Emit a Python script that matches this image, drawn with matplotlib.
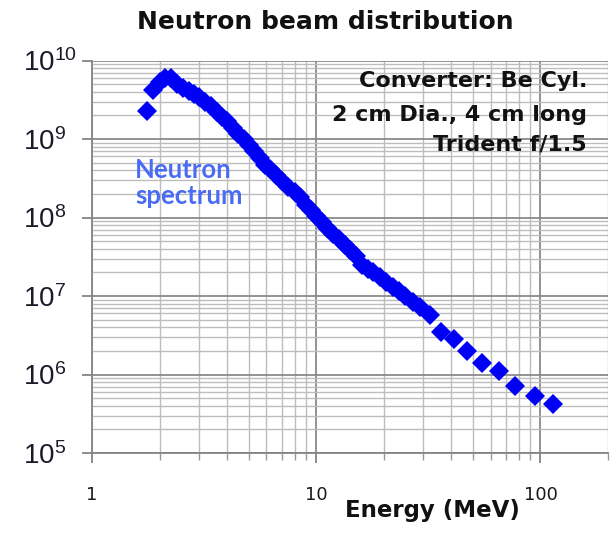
import matplotlib
matplotlib.use("Agg")
import matplotlib.pyplot as plt
from matplotlib.ticker import LogLocator, FixedLocator, NullFormatter

# Neutron energy (MeV) and yield per bin
energy_mev = [1.75, 1.88, 2.0, 2.12, 2.25, 2.4, 2.55, 2.7, 2.85, 3.0,
              3.2, 3.4, 3.6, 3.8, 4.0, 4.25, 4.5, 4.75, 5.0, 5.3,
              5.6, 5.9, 6.2, 6.6, 7.0, 7.5, 8.0, 8.5, 9.0, 9.5,
              10.0, 10.6, 11.2, 11.9, 12.6, 13.4, 14.2, 15.0, 16.0, 17.0,
              18.0, 19.2, 20.5, 22.0, 23.5, 25.0, 27.0, 29.0, 32.0, 36.0,
              41.0, 47.0, 55.0, 65.0, 77.0, 94.5, 113.5]
neutrons = [2.3e9, 4.2e9, 5.4e9, 5.9e9, 6.0e9, 5.0e9, 4.5e9, 4.1e9, 3.7e9, 3.4e9,
            3.0e9, 2.6e9, 2.2e9, 1.9e9, 1.7e9, 1.4e9, 1.15e9, 1.0e9, 8.5e8, 7.0e8,
            5.8e8, 4.7e8, 4.1e8, 3.5e8, 2.9e8, 2.45e8, 2.1e8, 1.8e8, 1.45e8, 1.25e8,
            1.05e8, 8.8e7, 7.3e7, 6.2e7, 5.3e7, 4.5e7, 3.9e7, 3.2e7, 2.5e7, 2.2e7,
            2.0e7, 1.75e7, 1.5e7, 1.3e7, 1.15e7, 1.0e7, 8.5e6, 7.2e6, 5.7e6, 3.5e6,
            2.85e6, 2.0e6, 1.4e6, 1.1e6, 7.2e5, 5.4e5, 4.2e5]

x_ticks = [1, 10, 100]
x_tick_labels = ["1", "10", "100"]
y_ticks = [1e5, 1e6, 1e7, 1e8, 1e9, 1e10]
y_tick_labels = [r"$\mathdefault{10^{%d}}$" % p for p in range(5, 11)]

title = "Neutron beam distribution"
x_label = "Energy (MeV)"
setup_lines = ["Converter: Be Cyl.", "2 cm Dia., 4 cm long", "Trident f/1.5"]
series_label = "Neutron\nspectrum"

W, H = 616, 533
fig = plt.figure(figsize=(W / 100, H / 100), dpi=100)
left, right, top, bottom = 92, 608, 60.5, 453
ax = fig.add_axes([left / W, 1 - bottom / H, (right - left) / W, (bottom - top) / H])

ax.set_xscale("log")
ax.set_yscale("log")
ax.set_xlim(1, 200)
ax.set_ylim(1e5, 1e10)

ax.xaxis.set_major_locator(FixedLocator(x_ticks))
ax.set_xticklabels(x_tick_labels)
ax.xaxis.set_minor_locator(LogLocator(base=10, subs=range(2, 10), numticks=20))
ax.xaxis.set_minor_formatter(NullFormatter())
ax.yaxis.set_major_locator(FixedLocator(y_ticks))
ax.set_yticklabels(y_tick_labels)
ax.yaxis.set_minor_locator(LogLocator(base=10, subs=range(2, 10), numticks=20))
ax.yaxis.set_minor_formatter(NullFormatter())

ax.grid(True, which="major", color="#8a8a8a", linewidth=1.3)
ax.grid(True, which="minor", color="#bdbdbd", linewidth=1.0)
ax.set_axisbelow(True)

for side in ("top", "right"):
    ax.spines[side].set_visible(False)
for side in ("left", "bottom"):
    ax.spines[side].set_color("#858585")
    ax.spines[side].set_linewidth(1.3)

ax.tick_params(axis="both", which="major", direction="out", length=7,
               width=1.3, color="#858585")
ax.tick_params(axis="x", which="minor", direction="out", length=5,
               width=1.0, color="#9a9a9a")
ax.tick_params(axis="y", which="minor", length=0)
ax.tick_params(axis="x", which="major", pad=17, labelsize=13, labelcolor="#1a1a1a")
ax.tick_params(axis="y", which="major", pad=42.5, labelsize=20, labelcolor="#1a1a2a")
for lbl in ax.get_xticklabels():
    lbl.set_fontfamily("DejaVu Sans")
for lbl in ax.get_yticklabels():
    lbl.set_fontfamily("Liberation Sans")
    lbl.set_horizontalalignment("left")

ax.plot(energy_mev, neutrons, linestyle="none", marker="D", markersize=10.2,
        markeredgewidth=0, color="#0000f5", clip_on=False, zorder=3)

fig.text(325 / W, 1 - 22 / H, title, ha="center", va="center",
         fontsize=18, fontweight="bold", family="DejaVu Sans", color="#111111")
fig.text(432 / W, 1 - 510 / H, x_label, ha="center", va="center",
         fontsize=16.5, fontweight="bold", family="DejaVu Sans", color="#111111")

for text, y in zip(setup_lines, [81, 115, 144]):
    fig.text(587 / W, 1 - y / H, text, ha="right", va="center",
             fontsize=16, fontweight="bold", family="DejaVu Sans", color="#111111")

fig.text(135 / W, 1 - 183 / H, series_label, ha="left", va="center",
         fontsize=18.5, fontweight="bold", family="Lato", color="#4a6cf5",
         linespacing=1.12)

fig.savefig("out.png", dpi=100)
